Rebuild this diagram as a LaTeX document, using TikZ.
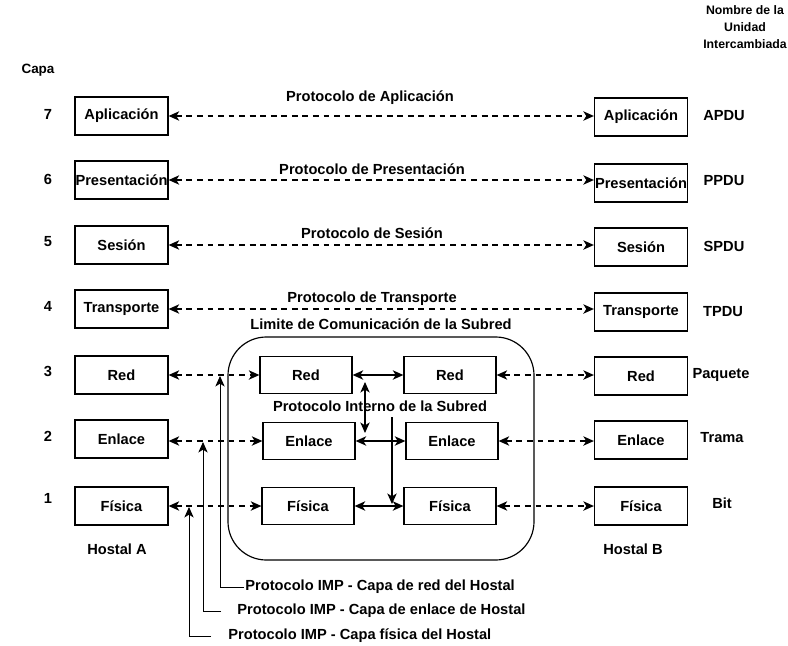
\documentclass[tikz,border=0pt]{standalone}
\usepackage{fontspec}
\setmainfont{Liberation Sans}
\usetikzlibrary{arrows.meta}
\tikzset{
	capa/.style={draw, line width=1.1pt, minimum width=2.79cm, minimum height=1.14cm, inner sep=0pt},
	subcapa/.style={draw, line width=1.1pt, minimum width=2.76cm, minimum height=1.11cm, inner sep=0pt},
	punta/.tip={Stealth[length=9pt,width=8pt,inset=2.5pt]},
	proto/.style={line width=0.9pt, dash pattern=on 5pt off 4pt, punta-punta},
	interno/.style={line width=1pt, punta-punta},
	imp/.style={line width=0.8pt, -punta},
	rotulo/.style={inner sep=1pt}
}

\begin{document}
\begin{tikzpicture}[x=0.03cm, y=-0.03cm, font=\bfseries\fontsize{12.5}{15}\selectfont]
	%%%%% START %%%%%
	\useasboundingbox (0,0) rectangle (788,645);
	
	\node[rotulo, font=\bfseries\fontsize{11.5}{13}\selectfont] (capa) at (38,70) {Capa};
	\node[rotulo, align=center, font=\bfseries\fontsize{10.5}{14.5}\selectfont] (nombre) at (745,27) {Nombre de la\\Unidad\\Intercambiada};
	
	% hostal A
	\node[capa] (a7) at (121.5,116) {Aplicación};
	\node[capa] (a6) at (121.5,180) {Presentación};
	\node[capa] (a5) at (121.5,245) {Sesión};
	\node[capa] (a4) at (121.5,309) {Transporte};
	\node[capa] (a3) at (121.5,375) {Red};
	\node[capa] (a2) at (121.5,439) {Enlace};
	\node[capa] (a1) at (121.5,506) {Física};
	\node[rotulo] (hostA) at (117,549) {Hostal A};
	
	% hostal B
	\node[capa] (b7) at (641,117) {Aplicación};
	\node[capa] (b6) at (641,183) {Presentación};
	\node[capa] (b5) at (641,247) {Sesión};
	\node[capa] (b4) at (641,312) {Transporte};
	\node[capa] (b3) at (641,376) {Red};
	\node[capa] (b2) at (641,440) {Enlace};
	\node[capa] (b1) at (641,506) {Física};
	\node[rotulo] (hostB) at (633,549) {Hostal B};
	
	% numeros de capa
	\node (n7) at (48,114) {7};
	\node (n6) at (48,179) {6};
	\node (n5) at (48,242) {5};
	\node (n4) at (48,306) {4};
	\node (n3) at (48,371) {3};
	\node (n2) at (48,436) {2};
	\node (n1) at (48,498) {1};
	
	% unidades
	\node (u7) at (724,116) {APDU};
	\node (u6) at (724,181) {PPDU};
	\node (u5) at (724,246) {SPDU};
	\node (u4) at (723,312) {TPDU};
	\node (u3) at (721,375) {Paquete};
	\node (u2) at (722,438) {Trama};
	\node (u1) at (722,503) {Bit};
	
	% protocolos extremo a extremo
	\draw[proto] (a7.east) -- (a7.east -| b7.west);
	\node[rotulo] (p7) at (370,98) {Protocolo de Aplicación};
	\draw[proto] (a6.east) -- (a6.east -| b6.west);
	\node[rotulo] (p6) at (372,169) {Protocolo de Presentación};
	\draw[proto] (a5.east) -- (a5.east -| b5.west);
	\node[rotulo] (p5) at (372,233) {Protocolo de Sesión};
	\draw[proto] (a4.east) -- (a4.east -| b4.west);
	\node[rotulo] (p4) at (372,299) {Protocolo de Transporte};
	
	% subred
	\draw[line width=1pt, rounded corners=1.15cm] (228,337) rectangle (534,560);
	\node[rotulo] (limite) at (381,324) {Limite de Comunicación de la Subred};
	
	\node[subcapa] (i3) at (306,375) {Red};
	\node[subcapa] (j3) at (450,375) {Red};
	\node[subcapa] (i2) at (309,441) {Enlace};
	\node[subcapa] (j2) at (452,441) {Enlace};
	\node[subcapa] (i1) at (308,506) {Física};
	\node[subcapa] (j1) at (450,506) {Física};
	\node[rotulo] (interno) at (380,406) {Protocolo Interno de la Subred};
	
	\draw[interno] (i3) -- (j3);
	\draw[interno] (i2) -- (j2);
	\draw[interno] (i1) -- (j1);
	\coordinate (v1) at (365,382);
	\coordinate (v2) at (365,433);
	\draw[interno] (v1) -- (v2);
	\coordinate (v3) at (392,417);
	\coordinate (v4) at (392,504);
	\draw[imp, line width=1pt] (v3) -- (v4);
	
	% hostal - subred
	\draw[proto] (a3.east) -- (i3.west);
	\draw[proto] (a2.east |- i2.west) -- (i2.west);
	\draw[proto] (a1.east) -- (i1.west);
	\draw[proto] (j3.east) -- (j3.east -| b3.west);
	\draw[proto] (j2.east) -- (j2.east -| b2.west);
	\draw[proto] (j1.east) -- (b1.west);
	
	% protocolos IMP
	\node[rotulo, anchor=west] (imp3) at (244,587) {Protocolo IMP - Capa de red del Hostal};
	\node[rotulo, anchor=west] (imp2) at (236,611) {Protocolo IMP - Capa de enlace de Hostal};
	\node[rotulo, anchor=west] (imp1) at (227,636) {Protocolo IMP - Capa física del Hostal};
	\coordinate (e2) at (221,611);
	\coordinate (e1) at (211,636);
	\coordinate (t3) at (220,376);
	\coordinate (t2) at (203,442);
	\coordinate (t1) at (189,507);
	\draw[imp] (imp3.west) -| (t3);
	\draw[imp] (e2) -| (t2);
	\draw[imp] (e1) -| (t1);
	
	%%%%% END %%%%%
\end{tikzpicture}
\end{document}
